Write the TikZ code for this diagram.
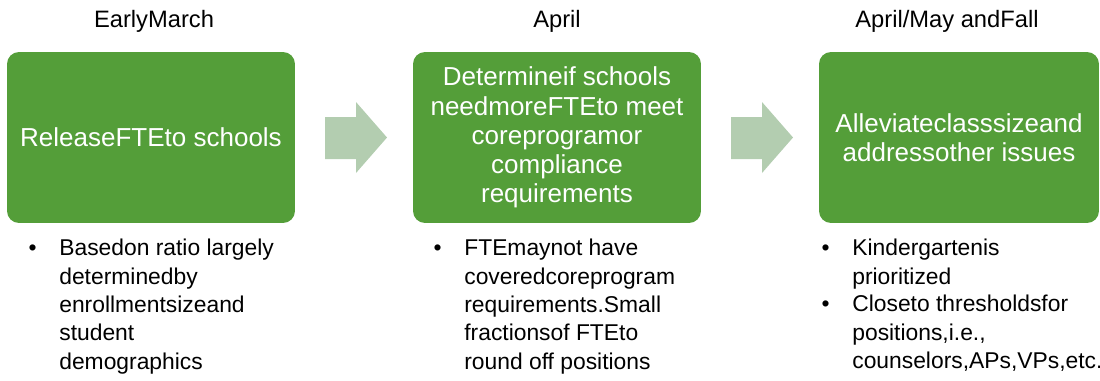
\documentclass[tikz,border=0pt]{standalone}
\usepackage{fontspec}
\setmainfont{Liberation Sans}
\definecolor{boxgreen}{RGB}{84,158,57}
\definecolor{arrowgreen}{RGB}{179,205,176}
\tikzset{
  stepbox/.style={fill=boxgreen, rounded corners=0.24cm, minimum width=5.76cm,
    minimum height=3.42cm, text=white, align=center, inner sep=0pt,
    font=\fontsize{14.8}{16.6}\selectfont},
  period/.style={anchor=base, inner sep=0pt, font=\fontsize{13.5}{16}\selectfont},
  item/.style={anchor=north west, align=left, inner sep=0pt,
    font=\fontsize{13}{16.1}\selectfont},
  flow/.style={fill=arrowgreen}
}
\newcommand{\bul}{\llap{\textbullet\hspace{13pt}}}

\begin{document}
\begin{tikzpicture}[x=0.02cm, y=-0.02cm]
  \useasboundingbox (0,0) rectangle (1100,380);

  % Zeitraeume
  \node[period] (march) at (154,27) {EarlyMarch};
  \node[period] (april) at (557,27) {April};
  \node[period] (fall) at (947,27) {April/May andFall};

  % Schritte
  \node[stepbox] (release) at (151,137.5) {ReleaseFTEto schools};
  \node[stepbox] (need) at (557,137.5) {Determineif schools\\needmoreFTEto meet\\coreprogramor\\compliance\\requirements};
  \node[stepbox, minimum width=5.6cm] (relieve) at (959,137.5) {Alleviateclasssizeand\\addressother issues};

  % Pfeile
  \fill[flow] (325,117) -- (356,117) -- (356,102) -- (387,137.5)
    -- (356,173) -- (356,159) -- (325,159) -- cycle;
  \fill[flow] (731,117) -- (762,117) -- (762,102) -- (793,137.5)
    -- (762,173) -- (762,159) -- (731,159) -- cycle;

  % Details
  \node[item] (ratio) at (59,239) {\bul Basedon ratio largely\\determinedby\\enrollmentsizeand\\student\\demographics};
  \node[item] (cover) at (464,239) {\bul FTEmaynot have\\coveredcoreprogram\\requirements.Small\\fractionsof FTEto\\round off positions};
  \node[item] (kinder) at (852,239) {\bul Kindergartenis\\prioritized};
  \node[item] (close) at (852,295) {\bul Closeto thresholdsfor\\positions,i.e.,\\counselors,APs,VPs,etc.};
\end{tikzpicture}
\end{document}
